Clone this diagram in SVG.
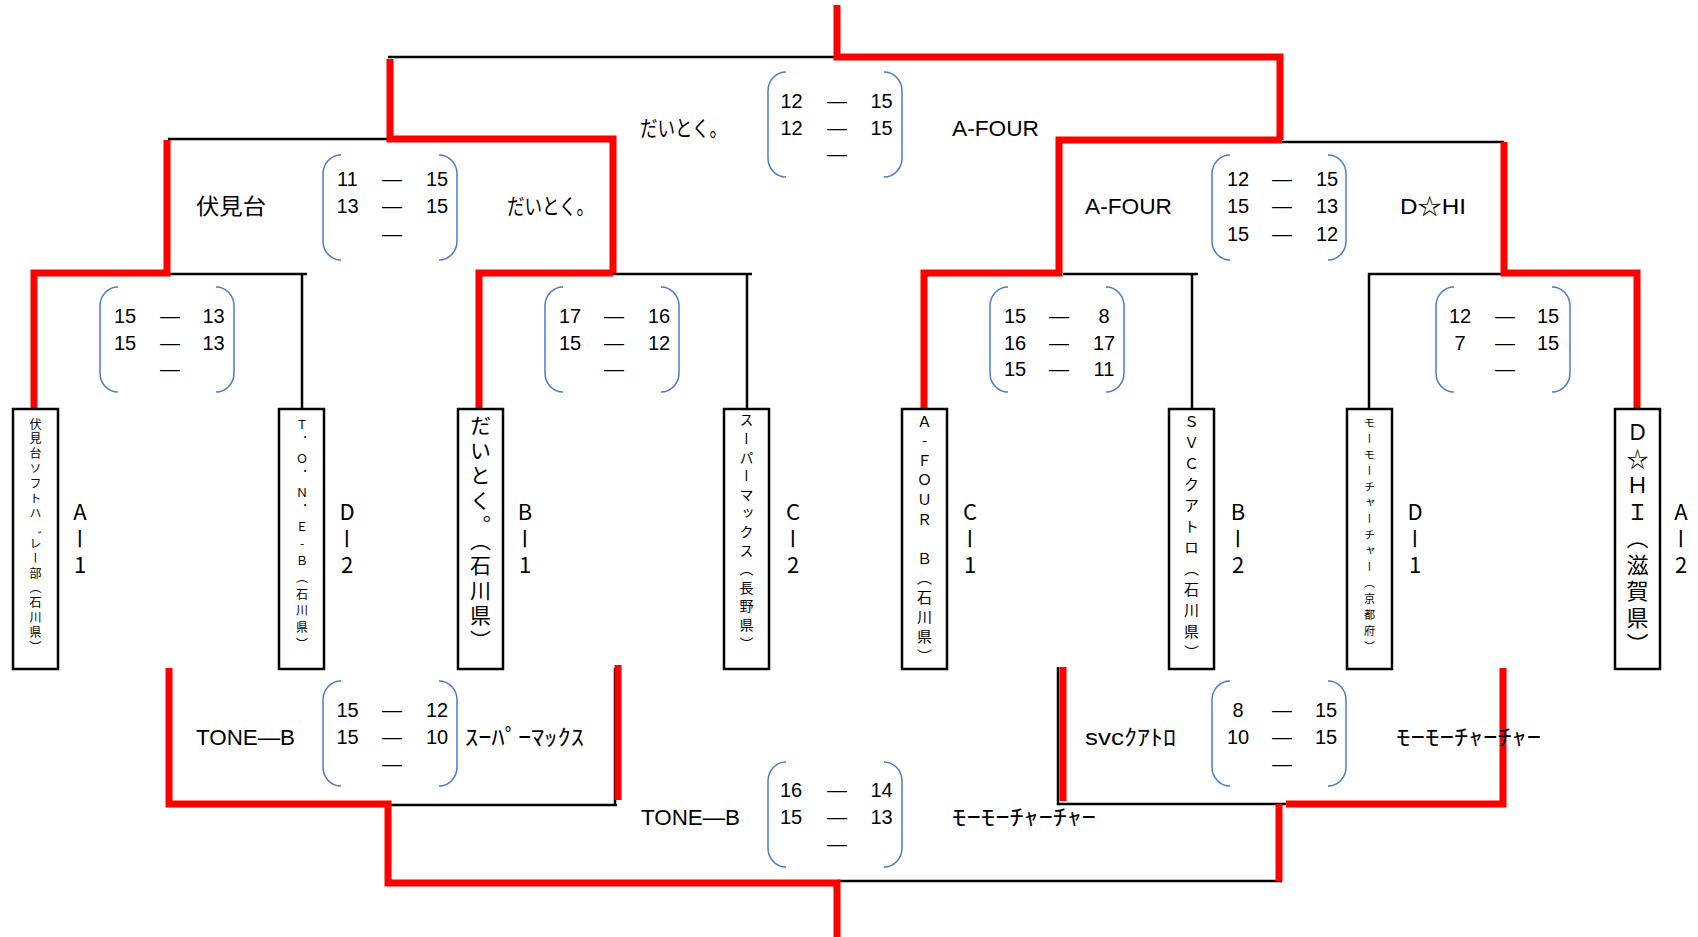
<svg xmlns="http://www.w3.org/2000/svg" width="1698" height="937" viewBox="0 0 1698 937">
<style>
.blk{fill:none;stroke:#000;stroke-width:2.5}
.red{fill:none;stroke:#ff0000;stroke-width:7;stroke-linejoin:miter}
.box{fill:#fff;stroke:#000;stroke-width:2.5}
.brk{fill:none;stroke:#4a7cc4;stroke-width:1.5}
.num{font-family:"Liberation Sans",Arial,sans-serif;font-size:20px;text-anchor:middle;fill:#000}
.team{font-family:"Liberation Sans","Noto Sans CJK JP",sans-serif;font-size:22px;fill:#000}
.vt{font-family:"Noto Sans CJK JP",sans-serif;writing-mode:vertical-rl;fill:#000}
.up{text-orientation:upright}
.lbl{font-family:"Noto Sans CJK JP",sans-serif;writing-mode:vertical-rl;text-orientation:upright;font-size:22px;letter-spacing:4.5px;fill:#000}
</style>
<defs>
<g id="bracket">
<path class="brk" d="M18,0 A18,19 0 0 0 0,19 V86 A18,19 0 0 0 18,105"/>
<path class="brk" d="M116,0 A18,19 0 0 1 134,19 V86 A18,19 0 0 1 116,105"/>
</g>
</defs>
<rect width="1698" height="937" fill="#fff"/>
<g id="connectors">
<path class="blk" d="M388,57 H837"/>
<path class="blk" d="M168,139 H390"/>
<path class="blk" d="M168,274 H307 M302,274 V409"/>
<path class="blk" d="M613,274 H752 M747,274 V409"/>
<path class="blk" d="M1282,142 H1504"/>
<path class="blk" d="M1063,274 H1198 M1192,274 V409"/>
<path class="blk" d="M1369,409 V274 H1504"/>
<path class="blk" d="M390,805 H617 M615,668 V805"/>
<path class="blk" d="M1058,667 V804 H1286"/>
<path class="blk" d="M837,881 H1282"/>
<path class="red" d="M837,5 V57 H1280 V140"/>
<path class="red" d="M390,59 V139 H613 V273"/>
<path class="red" d="M167,140 V273 H34 V409"/>
<path class="red" d="M613,273 H479 V409"/>
<path class="red" d="M1282,140 H1059 V273 H924 V409"/>
<path class="red" d="M1504,142 V273 H1637 V409"/>
<path class="red" d="M169,668 V804 H388 V883 H837 V937"/>
<path class="red" d="M618,665 V800"/>
<path class="red" d="M1063,667 V801"/>
<path class="red" d="M1503,668 V804 H1286"/>
<path class="red" d="M1279,804 V881"/>
</g>
<g id="team-a1">
<rect class="box" x="13" y="409" width="45" height="260"/>
<text class="vt" x="35.5" y="418" font-size="12" letter-spacing="2.9">伏見台ソフトハ゛レー部（石川県）</text>
<text class="lbl" x="80" y="501">Aー1</text>
</g>
<g id="team-d2">
<rect class="box" x="279" y="409" width="45" height="260"/>
<text class="vt up" x="302" y="419" font-size="12" letter-spacing="4.9">Ｔ．Ｏ．Ｎ．Ｅ-Ｂ（石川県）</text>
<text class="lbl" x="347" y="501">Dー2</text>
</g>
<g id="team-b1">
<rect class="box" x="458" y="409" width="45" height="260"/>
<text class="vt" x="480.5" y="415" font-size="21" letter-spacing="4">だいとく。（石川県）</text>
<text class="lbl" x="525" y="501">Bー1</text>
</g>
<g id="team-c2">
<rect class="box" x="724" y="409" width="45" height="260"/>
<text class="vt" x="746.5" y="413" font-size="14" letter-spacing="4.6">スーパーマックス（長野県）</text>
<text class="lbl" x="793" y="501">Cー2</text>
</g>
<g id="team-c1">
<rect class="box" x="902" y="409" width="45" height="260"/>
<text class="vt up" x="924.5" y="413.5" font-size="15" letter-spacing="4.6">Ａ-ＦＯＵＲ　Ｂ（石川県）</text>
<text class="lbl" x="970" y="501">Cー1</text>
</g>
<g id="team-b2">
<rect class="box" x="1169" y="409" width="45" height="260"/>
<text class="vt" x="1191.5" y="414" font-size="15" letter-spacing="6">ＳＶＣクアトロ（石川県）</text>
<text class="lbl" x="1238" y="501">Bー2</text>
</g>
<g id="team-d1">
<rect class="box" x="1347" y="409" width="45" height="260"/>
<text class="vt" x="1369.5" y="417" font-size="11" letter-spacing="5">モーモーチャーチャー（京都府）</text>
<text class="lbl" x="1415" y="501">Dー1</text>
</g>
<g id="team-a2">
<rect class="box" x="1615" y="409" width="45" height="260"/>
<text class="vt" x="1637.5" y="421" font-size="22" letter-spacing="4.5">Ｄ☆ＨＩ（滋賀県）</text>
<text class="lbl" x="1681" y="501">Aー2</text>
</g>
<g id="match-final-top">
<use href="#bracket" x="768" y="72"/>
<text class="team" x="640" y="136" textLength="87" lengthAdjust="spacingAndGlyphs">だいとく。</text>
<text class="team" x="952" y="136" textLength="87" lengthAdjust="spacingAndGlyphs">A-FOUR</text>
<text class="num" y="108"><tspan x="791.5">12</tspan><tspan x="837">—</tspan><tspan x="881.5">15</tspan></text>
<text class="num" y="135"><tspan x="791.5">12</tspan><tspan x="837">—</tspan><tspan x="881.5">15</tspan></text>
<text class="num" y="161" x="837">—</text>
</g>
<g id="match-semi-left">
<use href="#bracket" x="323" y="155"/>
<text class="team" x="196" y="214" textLength="70" lengthAdjust="spacingAndGlyphs">伏見台</text>
<text class="team" x="507" y="214" textLength="87" lengthAdjust="spacingAndGlyphs">だいとく。</text>
<text class="num" y="186"><tspan x="347.5">11</tspan><tspan x="392">—</tspan><tspan x="437">15</tspan></text>
<text class="num" y="213"><tspan x="347.5">13</tspan><tspan x="392">—</tspan><tspan x="437">15</tspan></text>
<text class="num" y="241" x="392">—</text>
</g>
<g id="match-semi-right">
<use href="#bracket" x="1212" y="155"/>
<text class="team" x="1085" y="214" textLength="87" lengthAdjust="spacingAndGlyphs">A-FOUR</text>
<text class="team" x="1400" y="214" textLength="66" lengthAdjust="spacingAndGlyphs">D☆HI</text>
<text class="num" y="186"><tspan x="1238">12</tspan><tspan x="1282">—</tspan><tspan x="1327">15</tspan></text>
<text class="num" y="213"><tspan x="1238">15</tspan><tspan x="1282">—</tspan><tspan x="1327">13</tspan></text>
<text class="num" y="241"><tspan x="1238">15</tspan><tspan x="1282">—</tspan><tspan x="1327">12</tspan></text>
</g>
<g id="match-r1-1">
<use href="#bracket" x="100" y="287"/>
<text class="num" y="323"><tspan x="125">15</tspan><tspan x="170">—</tspan><tspan x="213.5">13</tspan></text>
<text class="num" y="350"><tspan x="125">15</tspan><tspan x="170">—</tspan><tspan x="213.5">13</tspan></text>
<text class="num" y="376" x="170">—</text>
</g>
<g id="match-r1-2">
<use href="#bracket" x="545" y="287"/>
<text class="num" y="323"><tspan x="570">17</tspan><tspan x="614">—</tspan><tspan x="659">16</tspan></text>
<text class="num" y="350"><tspan x="570">15</tspan><tspan x="614">—</tspan><tspan x="659">12</tspan></text>
<text class="num" y="376" x="614">—</text>
</g>
<g id="match-r1-3">
<use href="#bracket" x="990" y="287"/>
<text class="num" y="323"><tspan x="1015">15</tspan><tspan x="1059">—</tspan><tspan x="1104">8</tspan></text>
<text class="num" y="350"><tspan x="1015">16</tspan><tspan x="1059">—</tspan><tspan x="1104">17</tspan></text>
<text class="num" y="376"><tspan x="1015">15</tspan><tspan x="1059">—</tspan><tspan x="1104">11</tspan></text>
</g>
<g id="match-r1-4">
<use href="#bracket" x="1436" y="287"/>
<text class="num" y="323"><tspan x="1460">12</tspan><tspan x="1505">—</tspan><tspan x="1548">15</tspan></text>
<text class="num" y="350"><tspan x="1460">7</tspan><tspan x="1505">—</tspan><tspan x="1548">15</tspan></text>
<text class="num" y="376" x="1505">—</text>
</g>
<g id="match-bottom-left">
<use href="#bracket" x="323" y="681"/>
<text class="team" x="196" y="745" textLength="99" lengthAdjust="spacingAndGlyphs">TONE—B</text>
<text class="team" x="465" y="745" textLength="119" lengthAdjust="spacingAndGlyphs">ｽｰﾊﾟｰﾏｯｸｽ</text>
<text class="num" y="717"><tspan x="347.5">15</tspan><tspan x="392">—</tspan><tspan x="437">12</tspan></text>
<text class="num" y="744"><tspan x="347.5">15</tspan><tspan x="392">—</tspan><tspan x="437">10</tspan></text>
<text class="num" y="771" x="392">—</text>
</g>
<g id="match-bottom-right">
<use href="#bracket" x="1212" y="681"/>
<text class="team" x="1085" y="745" textLength="91" lengthAdjust="spacingAndGlyphs">svcｸｱﾄﾛ</text>
<text class="team" x="1396" y="745" textLength="145" lengthAdjust="spacingAndGlyphs">ﾓｰﾓｰﾁｬｰﾁｬｰ</text>
<text class="num" y="717"><tspan x="1238">8</tspan><tspan x="1282">—</tspan><tspan x="1326">15</tspan></text>
<text class="num" y="744"><tspan x="1238">10</tspan><tspan x="1282">—</tspan><tspan x="1326">15</tspan></text>
<text class="num" y="771" x="1282">—</text>
</g>
<g id="match-final-bottom">
<use href="#bracket" x="768" y="762"/>
<text class="team" x="641" y="825" textLength="99" lengthAdjust="spacingAndGlyphs">TONE—B</text>
<text class="team" x="952" y="825" textLength="144" lengthAdjust="spacingAndGlyphs">ﾓｰﾓｰﾁｬｰﾁｬｰ</text>
<text class="num" y="797"><tspan x="791">16</tspan><tspan x="837">—</tspan><tspan x="881.5">14</tspan></text>
<text class="num" y="824"><tspan x="791">15</tspan><tspan x="837">—</tspan><tspan x="881.5">13</tspan></text>
<text class="num" y="851" x="837">—</text>
</g>
</svg>
